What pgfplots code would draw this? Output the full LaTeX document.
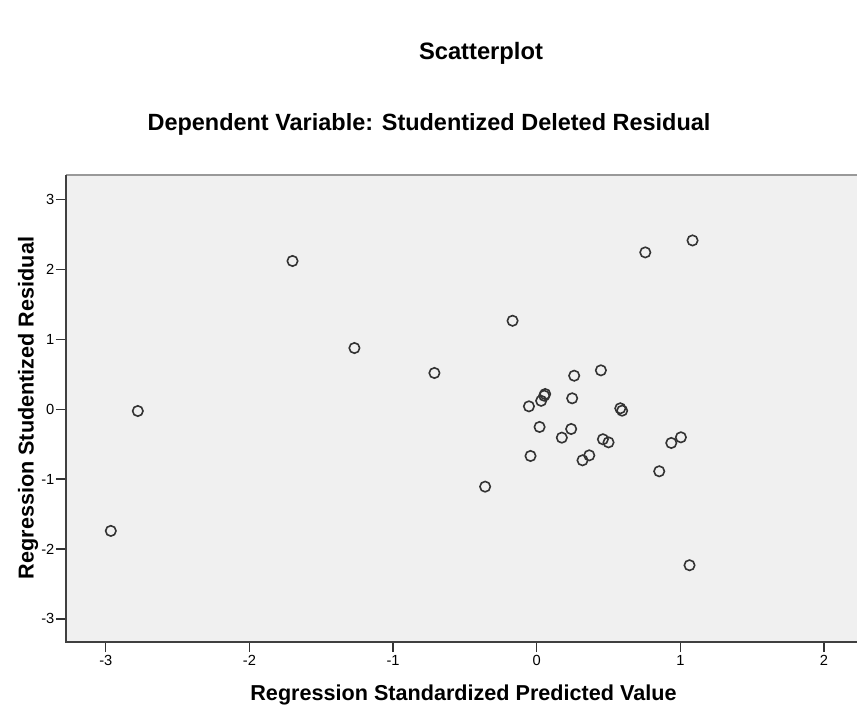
\documentclass[border=0pt]{standalone}
\usepackage{fontspec}
\setmainfont{Liberation Sans}
\usepackage{pgfplots}
\pgfplotsset{compat=1.18}
\definecolor{plotbg}{HTML}{F0F0F0}
\definecolor{markc}{HTML}{333333}
\begin{document}
\begin{tikzpicture}
% picture frame: 857x715 px at 0.75pt per px, axis box lower-left at (0,0)
\path[use as bounding box] (-49.5pt,-54.75pt) rectangle (593.25pt,481.5pt);
\begin{axis}[
  scale only axis,
  width=593.25pt, height=350.25pt,
  xmin=-3.277, xmax=2.23,
  ymin=-3.33, ymax=3.35,
  axis background/.style={fill=plotbg},
  axis line style={draw=none},
  xtick={-3,-2,-1,0,1,2},
  ytick={-3,-2,-1,0,1,2,3},
  xtick pos=bottom, ytick pos=left,
  tick align=outside,
  major tick length=7.5pt,
  tick style={black!80, line width=1pt},
  /pgf/number format/assume math mode=true,
  ticklabel style={font=\fontsize{11}{12}\selectfont, inner sep=1pt},
  xticklabel style={yshift=-1pt},
  clip=false,
]
\addplot[only marks, mark=o, mark size=3.9pt,
  mark options={draw=markc, line width=1.2pt}] coordinates {
  (-2.965,-1.741) (-2.777,-0.026) (-1.700,2.120) (-1.269,0.875)
  (-0.712,0.518) (-0.359,-1.108) (-0.168,1.265) (-0.054,0.041)
  (-0.043,-0.669) (0.020,-0.254) (0.031,0.120) (0.052,0.193)
  (0.059,0.217) (0.175,-0.407) (0.240,-0.283) (0.247,0.156)
  (0.261,0.479) (0.319,-0.731) (0.366,-0.660) (0.447,0.556)
  (0.461,-0.430) (0.500,-0.474) (0.582,0.013) (0.595,-0.021)
  (0.756,2.243) (0.853,-0.888) (0.937,-0.483) (1.004,-0.402)
  (1.064,-2.232) (1.085,2.414)
};
\draw[gray!80, line width=1.2pt] (rel axis cs:0,1) -- (rel axis cs:1,1);
\draw[black!75, line width=1.2pt] (rel axis cs:0,1) -- (rel axis cs:0,0) -- (rel axis cs:1,0);
\end{axis}
\node[font=\bfseries\fontsize{17.8}{20}\selectfont] at (311.25pt,441.75pt) {Scatterplot};
\node[font=\bfseries\fontsize{17.6}{20}\selectfont] at (272.25pt,388.5pt) {Dependent Variable: Studentized Deleted Residual};
\node[font=\bfseries\fontsize{16.2}{18}\selectfont] at (298.1pt,-39.75pt) {Regression Standardized Predicted Value};
\node[font=\bfseries\fontsize{16.2}{18}\selectfont, rotate=90] at (-28.5pt,175.5pt) {Regression Studentized Residual};
\end{tikzpicture}
\end{document}
